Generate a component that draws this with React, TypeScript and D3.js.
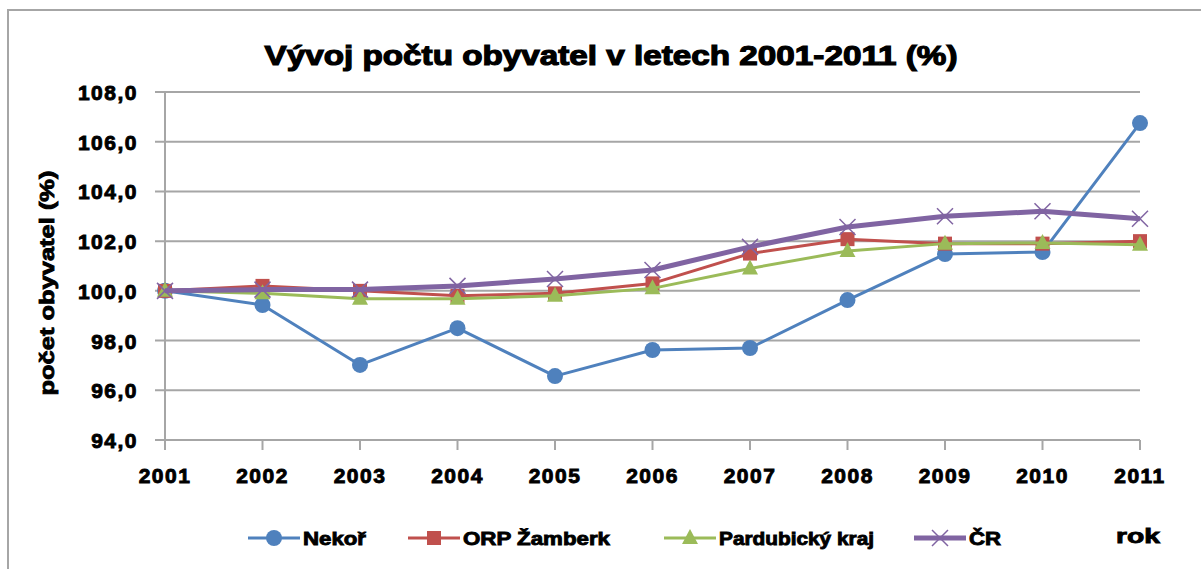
import React from "react";
import * as d3 from "d3";

const years = ["2001", "2002", "2003", "2004", "2005", "2006", "2007", "2008", "2009", "2010", "2011"];
const nekor = [100.0, 99.43, 97.02, 98.5, 96.57, 97.62, 97.7, 99.63, 101.48, 101.56, 106.75];
const orpZamberk = [100.0, 100.2, 100.0, 99.8, 99.9, 100.3, 101.5, 102.08, 101.9, 101.9, 102.0];
const pardubicky = [100.0, 99.9, 99.68, 99.68, 99.8, 100.1, 100.9, 101.6, 101.9, 101.93, 101.85];
const cr = [100.0, 100.05, 100.05, 100.2, 100.48, 100.84, 101.77, 102.57, 103.0, 103.2, 102.9];
const yTicks = [94, 96, 98, 100, 102, 104, 106, 108];
const seriesNames = ["Nekoř", "ORP Žamberk", "Pardubický kraj", "ČR"];

const W = 1201;
const H = 569;
const FONT = "'Liberation Sans', Arial, sans-serif";

type Series = { name: string; values: number[]; color: string; width: number; marker: string };

const series: Series[] = [
  { name: seriesNames[0], values: nekor, color: "#4F81BD", width: 3, marker: "circle" },
  { name: seriesNames[1], values: orpZamberk, color: "#C0504D", width: 3, marker: "square" },
  { name: seriesNames[2], values: pardubicky, color: "#9BBB59", width: 3, marker: "triangle" },
  { name: seriesNames[3], values: cr, color: "#8064A2", width: 5, marker: "x" },
];

function Marker({ type, x, y, color }: { type: string; x: number; y: number; color: string }) {
  if (type === "circle") return <circle cx={x} cy={y} r={8} fill={color} />;
  if (type === "square") return <rect x={x - 7} y={y - 7} width={14} height={14} fill={color} />;
  if (type === "triangle")
    return <path d={`M${x},${y - 9}L${x + 8},${y + 6}L${x - 8},${y + 6}Z`} fill={color} />;
  return (
    <path
      d={`M${x - 8},${y - 8}L${x + 8},${y + 8}M${x - 8},${y + 8}L${x + 8},${y - 8}`}
      stroke={color}
      strokeWidth={1.5}
      fill="none"
    />
  );
}

const textStyle = {
  fontFamily: FONT,
  fontWeight: "bold" as const,
  fill: "#000",
  stroke: "#000",
  strokeWidth: 0.9,
};

export default function App() {
  const x = d3.scalePoint<string>().domain(years).range([165, 1140]);
  const y = d3.scaleLinear().domain([94, 108]).range([440, 92]);
  const line = d3
    .line<number>()
    .x((_, i) => x(years[i]) as number)
    .y((d) => y(d));

  const legendX = [248, 408, 664, 914];
  const legendTextW = [63, 147, 155, 32];
  const legendY = 538;

  return (
    <svg width={W} height={H} style={{ position: "absolute", left: 0, top: 0 }}>
      <rect x={0} y={0} width={W} height={H} fill="#fff" />
      <rect x={8} y={10} width={1250} height={600} fill="#fff" stroke="#a6a6a6" strokeWidth={2} />
      <text
        x={611}
        y={65}
        textAnchor="middle"
        {...textStyle}
        strokeWidth={1.2}
        fontSize={28}
        textLength={693}
        lengthAdjust="spacingAndGlyphs"
      >
        Vývoj počtu obyvatel v letech 2001-2011 (%)
      </text>

      {/* gridlines */}
      {yTicks.map((t) => (
        <g key={t}>
          <line x1={155} x2={1140} y1={y(t)} y2={y(t)} stroke="#a6a6a6" strokeWidth={2} />
          <text x={138} y={y(t) + 8} textAnchor="end" {...textStyle} fontSize={21} letterSpacing={1.5}>
            {t.toFixed(1).replace(".", ",")}
          </text>
        </g>
      ))}
      {/* y axis */}
      <line x1={165} x2={165} y1={92} y2={440} stroke="#a6a6a6" strokeWidth={2} />
      {/* x ticks */}
      {years.map((yr) => (
        <g key={yr}>
          <line x1={x(yr)} x2={x(yr)} y1={440} y2={450} stroke="#a6a6a6" strokeWidth={2} />
          <text x={x(yr) as number} y={483} textAnchor="middle" {...textStyle} fontSize={21} letterSpacing={1.5}>
            {yr}
          </text>
        </g>
      ))}
      <text
        transform={`translate(54,283) rotate(-90)`}
        textAnchor="middle"
        {...textStyle}
        fontSize={21}
        textLength={225}
        lengthAdjust="spacingAndGlyphs"
      >
        počet obyvatel (%)
      </text>

      {/* series */}
      {series.map((s) => (
        <g key={s.name}>
          <path d={line(s.values) || ""} fill="none" stroke={s.color} strokeWidth={s.width} strokeLinejoin="round" />
          {s.values.map((v, i) => (
            <Marker key={i} type={s.marker} x={x(years[i]) as number} y={y(v)} color={s.color} />
          ))}
        </g>
      ))}

      {/* legend */}
      {series.map((s, i) => (
        <g key={s.name}>
          <line
            x1={legendX[i]}
            x2={legendX[i] + 52}
            y1={legendY}
            y2={legendY}
            stroke={s.color}
            strokeWidth={s.width}
          />
          <Marker type={s.marker} x={legendX[i] + 26} y={legendY} color={s.color} />
          <text
            x={legendX[i] + 55}
            y={legendY + 7}
            {...textStyle}
            fontSize={19}
            textLength={legendTextW[i]}
            lengthAdjust="spacingAndGlyphs"
          >
            {s.name}
          </text>
        </g>
      ))}
      <text x={1116} y={543} {...textStyle} fontSize={21} textLength={44} lengthAdjust="spacingAndGlyphs">
        rok
      </text>
    </svg>
  );
}
